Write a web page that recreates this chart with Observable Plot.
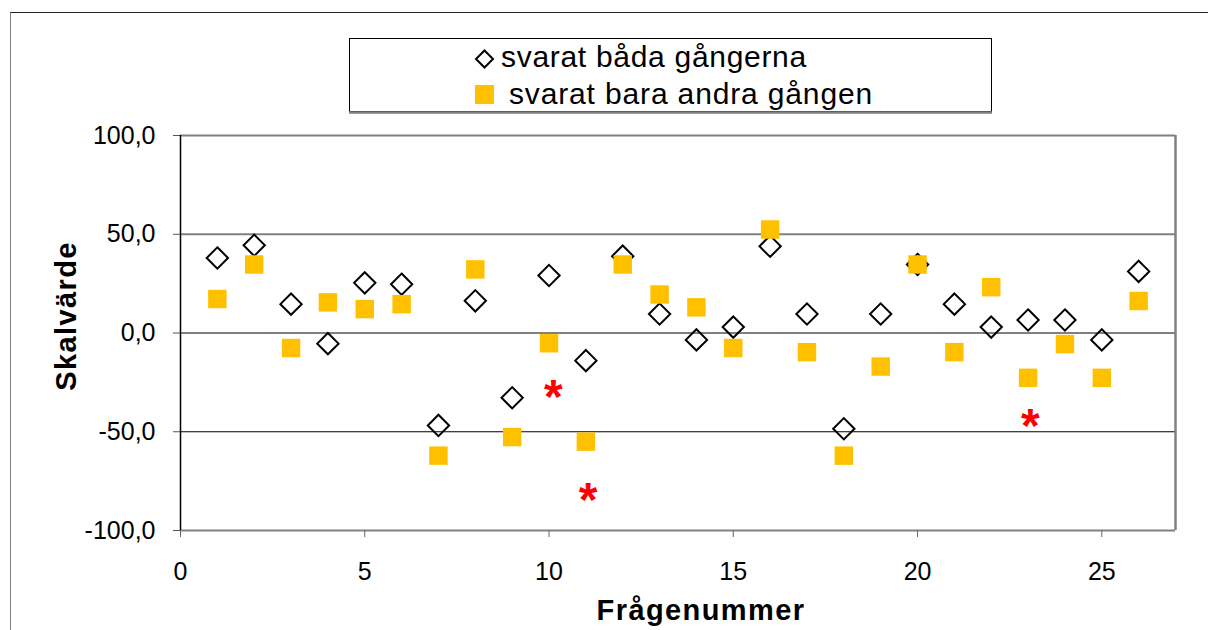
<!DOCTYPE html>
<html>
<head>
<meta charset="utf-8">
<script src="https://cdn.jsdelivr.net/npm/d3@7"></script>
<script src="https://cdn.jsdelivr.net/npm/@observablehq/plot@0.6"></script>
<style>
  html, body { margin: 0; padding: 0; background: #fff; }
  #wrap { position: relative; width: 1208px; height: 630px; overflow: hidden; font-family: "Liberation Sans", Arial, sans-serif; }
  #outer { position: absolute; left: 10px; top: 12px; width: 1400px; height: 800px; border-top: 1.5px solid #222; border-left: 1.5px solid #808080; box-sizing: border-box; }
  #chart { position: absolute; left: 0; top: 0; }
  #legend { position: absolute; left: 349px; top: 38px; }
</style>
</head>
<body>
<div id="wrap">
  <div id="outer"></div>
  <div id="chart"></div>
  <div id="legend"></div>
</div>
<script>
// ---- data ----
const questions = d3.range(1, 27);
const seriesNames = ["svarat båda gångerna", "svarat bara andra gången"];
const bothTimes = [38.0, 44.4, 14.6, -5.4, 25.4, 24.7, -46.8, 16.3, -32.8, 29.1, -14.0, 38.9, 9.6, -3.5, 3.0, 43.9, 9.6, -48.5, 9.6, 34.7, 14.6, 3.0, 6.6, 6.6, -3.5, 31.2];
const secondOnly = [17.2, 34.7, -7.6, 15.5, 12.1, 14.6, -62.1, 32.2, -52.7, -5.2, -55.0, 34.7, 19.5, 13.0, -7.6, 52.4, -9.7, -62.1, -17.0, 34.7, -9.7, 23.2, -22.7, -5.6, -22.7, 16.2];
const starX = [10.12, 11.06, 23.06];
const starY = [-26.8, -78.8, -41.3];
const yTicks = [-100, -50, 0, 50, 100];
const xTicks = [0, 5, 10, 15, 20, 25];
const xLabel = "Frågenummer";
const yLabel = "Skalvärde";

const diamonds = questions.map((q, i) => ({x: q, y: bothTimes[i]}));
const squares = questions.map((q, i) => ({x: q, y: secondOnly[i]}));
const stars = starX.map((x, i) => ({x, y: starY[i]}));

const fmt = d => d.toFixed(1).replace(".", ",");

const chart = Plot.plot({
  width: 1208,
  height: 630,
  marginLeft: 180,
  marginRight: 33,
  marginTop: 135,
  marginBottom: 100,
  style: {fontFamily: '"Liberation Sans", Arial, sans-serif', fontSize: "25px", background: "transparent", color: "black", overflow: "visible"},
  x: {domain: [0, 27]},
  y: {domain: [-100, 100]},
  marks: [
    Plot.ruleY([50, 0], {stroke: "#808080", strokeWidth: 2}),
    Plot.ruleY([-50], {stroke: "#000", strokeWidth: 1.2}),
    Plot.ruleY([100, -100], {stroke: "#808080", strokeWidth: 2}),
    Plot.ruleX([27], {stroke: "#808080", strokeWidth: 2.5}),
    Plot.axisY({ticks: yTicks, tickSize: 7, tickPadding: 18, tickFormat: fmt, stroke: "#555", fontSize: 25, label: null}),
    Plot.axisX({ticks: xTicks, tickSize: 7, tickPadding: 25, stroke: "#666", fontSize: 25, label: null}),
    Plot.ruleX([0], {stroke: "#000", strokeWidth: 1.5, y1: -100, y2: 100}),
    Plot.dot(diamonds, {x: "x", y: "y", symbol: "diamond2", r: 9.6, stroke: "#000", strokeWidth: 2, fill: "none"}),
    Plot.dot(squares, {x: "x", y: "y", symbol: "square", r: 10.4, fill: "#FFC000", stroke: "none"}),
    Plot.text(stars, {x: "x", y: "y", text: () => "*", fill: "#FF0000", fontSize: 48, fontWeight: "bold", lineAnchor: "bottom", dy: 27}),
    Plot.text([xLabel], {frameAnchor: "bottom", dx: 23, dy: 89, lineAnchor: "bottom", textAnchor: "middle", fontWeight: "bold", fontSize: 29, text: d => d}),
    Plot.text([yLabel], {frameAnchor: "left", dx: -114, dy: -17, rotate: -90, lineAnchor: "middle", textAnchor: "middle", fontWeight: "bold", fontSize: 29, text: d => d})
  ]
});
chart.querySelectorAll("text").forEach(t => {
  if (t.textContent === xLabel || t.textContent === yLabel) t.style.letterSpacing = "1.4px";
});
document.getElementById("chart").appendChild(chart);

// ---- legend ----
const ns = "http://www.w3.org/2000/svg";
const lg = document.createElementNS(ns, "svg");
lg.setAttribute("width", 644);
lg.setAttribute("height", 77);
lg.style.fontFamily = '"Liberation Sans", Arial, sans-serif';
function el(name, attrs, text) {
  const e = document.createElementNS(ns, name);
  for (const k in attrs) e.setAttribute(k, attrs[k]);
  if (text != null) e.textContent = text;
  lg.appendChild(e);
  return e;
}
el("rect", {x: 0.5, y: 0.5, width: 642, height: 73, fill: "#fff", stroke: "#000", "stroke-width": 1});
el("line", {x1: 0, x2: 643, y1: 74.5, y2: 74.5, stroke: "#808080", "stroke-width": 2.5});
el("path", {d: "M135.5,12.5 L144,21 L135.5,29.5 L127,21 Z", fill: "none", stroke: "#000", "stroke-width": 2});
el("text", {x: 152, y: 29, "font-size": 30, "letter-spacing": "0.7px", fill: "#000"}, seriesNames[0]);
el("rect", {x: 126, y: 47, width: 19, height: 19, fill: "#FFC000"});
el("text", {x: 160, y: 66, "font-size": 30, "letter-spacing": "0.85px", fill: "#000"}, seriesNames[1]);
document.getElementById("legend").appendChild(lg);
</script>
</body>
</html>
